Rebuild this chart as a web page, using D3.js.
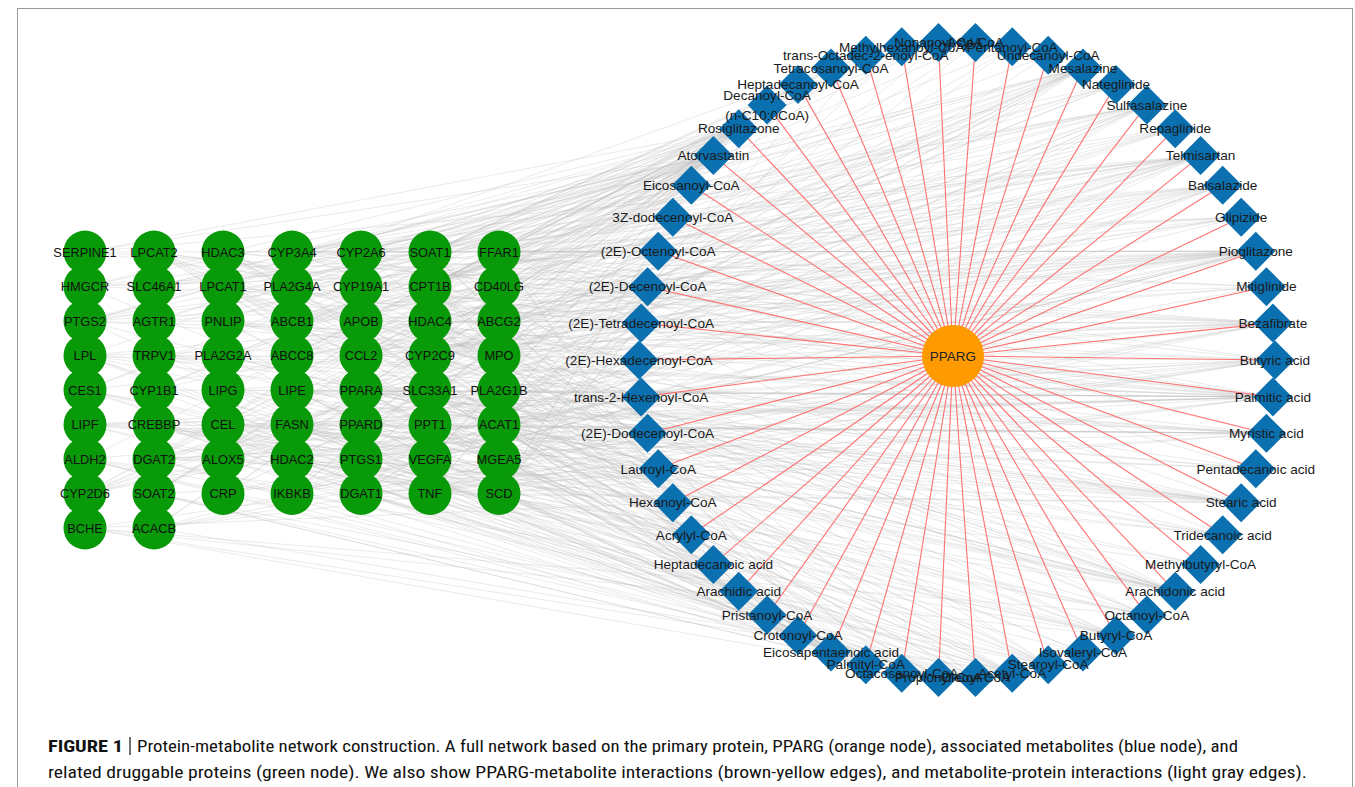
<!DOCTYPE html>
<html>
<head>
<meta charset="utf-8">
<script src="https://cdn.jsdelivr.net/npm/d3@7"></script>
<style>
  html, body { margin: 0; padding: 0; background: #fff; }
  svg { display: block; }
</style>
</head>
<body>
<svg id="chart" width="1355" height="787"></svg>
<script>
// ---------------- DATA ----------------
const hubName = "PPARG";

// metabolites, clockwise around the ring starting at the leftmost node
const metabolites = [
  "(2E)-Hexadecenoyl-CoA", "(2E)-Tetradecenoyl-CoA", "(2E)-Decenoyl-CoA", "(2E)-Octenoyl-CoA",
  "3Z-dodecenoyl-CoA", "Eicosanoyl-CoA", "Atorvastatin", "Rosiglitazone",
  "Decanoyl-CoA\n(n-C10:0CoA)", "Heptadecanoyl-CoA", "Tetracosanoyl-CoA", "trans-Octadec-2-enoyl-CoA",
  "Methylhexanoyl-CoA", "Nonanoyl-CoA", "Acyl-CoA", "Pentanoyl-CoA", "Undecanoyl-CoA",
  "Mesalazine", "Nateglinide", "Sulfasalazine", "Repaglinide", "Telmisartan", "Balsalazide",
  "Glipizide", "Pioglitazone", "Mitiglinide", "Bezafibrate", "Butyric acid", "Palmitic acid",
  "Myristic acid", "Pentadecanoic acid", "Stearic acid", "Tridecanoic acid", "Methylbutyryl-CoA",
  "Arachidonic acid", "Octanoyl-CoA", "Butyryl-CoA", "Isovaleryl-CoA", "Stearoyl-CoA",
  "Acetyl-CoA", "Oleoyl-CoA", "Propionyl-CoA", "Octacosanoyl-CoA", "Palmityl-CoA",
  "Eicosapentaenoic acid", "Crotonoyl-CoA", "Pristanoyl-CoA", "Arachidic acid",
  "Heptadecanoic acid", "Acrylyl-CoA", "Hexanoyl-CoA", "Lauroyl-CoA", "(2E)-Dodecenoyl-CoA",
  "trans-2-Hexenoyl-CoA"
];

// druggable proteins, column by column
const proteinColumns = [
  ["SERPINE1", "HMGCR", "PTGS2", "LPL", "CES1", "LIPF", "ALDH2", "CYP2D6", "BCHE"],
  ["LPCAT2", "SLC46A1", "AGTR1", "TRPV1", "CYP1B1", "CREBBP", "DGAT2", "SOAT2", "ACACB"],
  ["HDAC3", "LPCAT1", "PNLIP", "PLA2G2A", "LIPG", "CEL", "ALOX5", "CRP"],
  ["CYP3A4", "PLA2G4A", "ABCB1", "ABCC8", "LIPE", "FASN", "HDAC2", "IKBKB"],
  ["CYP2A6", "CYP19A1", "APOB", "CCL2", "PPARA", "PPARD", "PTGS1", "DGAT1"],
  ["SOAT1", "CPT1B", "HDAC4", "CYP2C9", "SLC33A1", "PPT1", "VEGFA", "TNF"],
  ["FFAR1", "CD40LG", "ABCG2", "MPO", "PLA2G1B", "ACAT1", "MGEA5", "SCD"]
];

// metabolite-protein interactions (metabolite indices per protein; estimated)
const proteinLinks = {
  SERPINE1: [7,24,26,21,6,28],
  HMGCR: [6,39,7,24,26,21,23],
  PTGS2: [34,44,17,19,22,6,7,24,21,28,27],
  LPL: [28,29,31,44,34,26,7,24,47,48],
  CES1: [6,7,24,39,41,36,50,35],
  LIPF: [28,29,31,30,32,48,47,27],
  ALDH2: [39,41,36,45,49,27,6],
  CYP2D6: [6,21,18,20,25,23,7,24,17],
  BCHE: [39,41,36,27,50,35],
  LPCAT2: [43,38,51,28,34,44,0,1,52,40],
  SLC46A1: [17,19,22,21,6],
  AGTR1: [21,24,7,6,26],
  TRPV1: [34,44,28,31,27,29],
  CYP1B1: [34,44,6,7,21,28],
  CREBBP: [39,41,36,33,37,50,35,45,49,27],
  DGAT2: [43,38,51,40,29,28,31,0,1,52,4,9,5],
  SOAT2: [43,38,40,51,10,42,11,5,9],
  ACACB: [39,6,7,24,26,27,28],
  HDAC3: [27,39,36,41,50,35,2,3,53,45],
  LPCAT1: [43,38,51,40,0,1,4,52,11,28],
  PNLIP: [28,29,31,30,47,48,32,7,6],
  PLA2G2A: [34,44,28,17,19,22],
  LIPG: [28,31,34,44,26,7],
  CEL: [28,29,31,30,32,48,47,6],
  ALOX5: [34,44,17,19,22,21],
  CRP: [6,7,24,26,17],
  CYP3A4: [6,7,24,18,20,25,23,21,26,19,34,28],
  PLA2G4A: [34,44,28,17,19,22,6],
  ABCB1: [6,7,24,21,20,18,23,25,17,19,22],
  ABCC8: [18,20,25,23,7,24,6],
  LIPE: [28,29,31,30,48,47,32,43,38],
  FASN: [39,41,36,45,49,50,35,3,2,53,43,51,29,28],
  HDAC2: [27,39,36,41,35,50,45,49,53,2],
  IKBKB: [17,19,22,7,24,6,26,21],
  CYP2A6: [6,21,7,24,17,19,22,34,44],
  CYP19A1: [6,7,24,21,26],
  APOB: [6,7,24,26,28,44,34,31],
  CCL2: [6,7,24,21,26,17],
  PPARA: [26,7,24,28,29,31,30,32,34,44,47,48,27,6,21],
  PPARD: [26,7,24,28,29,31,34,44,21,6],
  PTGS1: [34,44,17,19,22,6,24,7],
  DGAT1: [43,38,40,51,28,31,29,0,1,52,4,8,16],
  SOAT1: [43,38,40,51,10,42,9,5,11,6,12,13],
  CPT1B: [43,38,40,51,35,8,16,15,14,12,13,9,10,42,46,5,47],
  HDAC4: [27,39,36,41,35,50,2,3,53,45,49],
  CYP2C9: [6,7,24,21,18,20,25,23,17,19,22,34,44,26],
  SLC33A1: [39,41,36,33,37,45,49,14,15],
  PPT1: [43,38,51,28,29,31,40],
  VEGFA: [6,7,24,21,17,19,22],
  TNF: [6,7,24,21,26,17,19,22,27],
  FFAR1: [28,29,31,30,32,48,47,34,44,27,18,20,25,23,24,7],
  CD40LG: [6,7,24,17,26],
  ABCG2: [6,7,24,21,17,19,22,20,23],
  MPO: [6,7,24,17,19,22],
  PLA2G1B: [28,29,31,34,44,43,38],
  ACAT1: [39,41,36,33,37,45,49,50,35,3,2,53,12,13,14,15,46],
  MGEA5: [39,27,36,41,45],
  SCD: [43,38,40,28,31,29,0,1,52,11,4,9,5,10,42]
};

const captionBold = "FIGURE 1";
const captionLine1 = "Protein-metabolite network construction. A full network based on the primary protein, PPARG (orange node), associated metabolites (blue node), and";
const captionLine2 = "related druggable proteins (green node). We also show PPARG-metabolite interactions (brown-yellow edges), and metabolite-protein interactions (light gray edges).";

// ---------------- DRAWING ----------------
const svg = d3.select("#chart");
svg.append("rect").attr("width", 1355).attr("height", 787).attr("fill", "#fff");
svg.append("rect").attr("x", 17.5).attr("y", 8.5).attr("width", 1335).attr("height", 800)
  .attr("fill", "none").attr("stroke", "#9a9a9a").attr("stroke-width", 1);

const ring = { cx: 957, cy: 360, r: 318 };
const hub = { x: 953, y: 356, r: 31 };

const angle = d3.scaleLinear().domain([0, metabolites.length]).range([Math.PI, -Math.PI]);
const metaNodes = metabolites.map((name, i) => ({
  name, i,
  x: ring.cx + ring.r * Math.cos(angle(i)),
  y: ring.cy - ring.r * Math.sin(angle(i))
}));

const colX = d3.scalePoint().domain(d3.range(proteinColumns.length)).range([85, 499]);
const rowY = d3.scalePoint().domain(d3.range(9)).range([252, 528]);
const protNodes = [];
proteinColumns.forEach((col, c) => col.forEach((name, r) => protNodes.push({ name, x: colX(c), y: rowY(r) })));
const protByName = new Map(protNodes.map(d => [d.name, d]));

const grayEdges = [];
Object.entries(proteinLinks).forEach(([p, list]) => {
  list.forEach(m => grayEdges.push({ s: protByName.get(p), t: metaNodes[m] }));
});

// gray edges
svg.append("g").selectAll("line").data(grayEdges).join("line")
  .attr("x1", d => d.s.x).attr("y1", d => d.s.y)
  .attr("x2", d => d.t.x).attr("y2", d => d.t.y)
  .attr("stroke", "#bdbdbd").attr("stroke-opacity", 0.38).attr("stroke-width", 0.8);

// red edges
svg.append("g").selectAll("line").data(metaNodes).join("line")
  .attr("x1", hub.x).attr("y1", hub.y)
  .attr("x2", d => d.x).attr("y2", d => d.y)
  .attr("stroke", "#ff7272").attr("stroke-width", 1.1);

// diamonds
const diamond = d3.symbol().type(d3.symbolSquare).size(760);
svg.append("g").selectAll("path").data(metaNodes).join("path")
  .attr("d", diamond)
  .attr("transform", d => `translate(${d.x},${d.y}) rotate(45)`)
  .attr("fill", "#0a70b0");

// hub
svg.append("circle").attr("cx", hub.x).attr("cy", hub.y).attr("r", hub.r).attr("fill", "#ff9a00");
svg.append("text").attr("x", hub.x).attr("y", hub.y).attr("dy", "0.35em")
  .attr("text-anchor", "middle").attr("font-family", "Liberation Sans, Arial, sans-serif")
  .attr("font-size", 13.5).attr("fill", "#222").text(hubName);

// green protein nodes
svg.append("g").selectAll("circle").data(protNodes).join("circle")
  .attr("cx", d => d.x).attr("cy", d => d.y).attr("r", 21.5).attr("fill", "#089a08");
svg.append("g").selectAll("text").data(protNodes).join("text")
  .attr("x", d => d.x).attr("y", d => d.y).attr("dy", "0.36em")
  .attr("text-anchor", "middle").attr("font-family", "Liberation Sans, Arial, sans-serif")
  .attr("font-size", 12.8).attr("fill", "#111").text(d => d.name);

// metabolite labels
const mlab = svg.append("g").selectAll("text").data(metaNodes).join("text")
  .attr("text-anchor", "middle").attr("font-family", "Liberation Sans, Arial, sans-serif")
  .attr("font-size", 13.6).attr("fill", "#1a1a1a");
mlab.each(function(d) {
  const lines = d.name.split("\n");
  const t = d3.select(this);
  lines.forEach((ln, k) => {
    t.append("tspan").attr("x", d.x)
      .attr("y", d.y + (k - (lines.length - 1) / 2) * 20)
      .attr("dy", "0.35em").text(ln);
  });
});

// caption
const capFont = "'Liberation Sans Narrow', 'Roboto Condensed', 'Liberation Sans', Arial, sans-serif";
svg.append("text").attr("x", 48).attr("y", 752).attr("font-family", capFont)
  .attr("font-size", 16.5).attr("font-weight", "bold").attr("fill", "#111")
  .attr("textLength", 75).attr("lengthAdjust", "spacingAndGlyphs").text(captionBold);
svg.append("line").attr("x1", 130).attr("x2", 130).attr("y1", 737).attr("y2", 755)
  .attr("stroke", "#111").attr("stroke-width", 1.2);
svg.append("text").attr("x", 137).attr("y", 752).attr("font-family", capFont)
  .attr("font-size", 16.5).attr("fill", "#111")
  .attr("textLength", 1101).attr("lengthAdjust", "spacingAndGlyphs").text(captionLine1);
svg.append("text").attr("x", 48).attr("y", 778).attr("font-family", capFont)
  .attr("font-size", 16.5).attr("fill", "#111")
  .attr("textLength", 1259).attr("lengthAdjust", "spacingAndGlyphs").text(captionLine2);
</script>
</body>
</html>
